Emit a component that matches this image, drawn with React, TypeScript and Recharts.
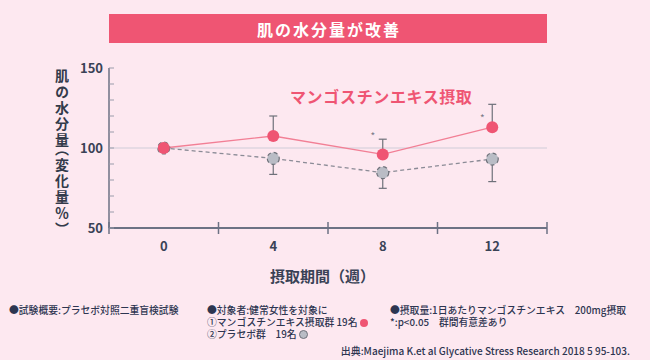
import React from 'react'
import { ComposedChart, Line, XAxis, YAxis, ErrorBar, ReferenceLine } from 'recharts'

const WEEKS = [0, 4, 8, 12]
const MANGO = [100, 107.5, 96, 113]
const MANGO_ERR = [0, 12.5, 9.5, 14.3]
const PLACEBO = [100, 93.5, 84.6, 93.1]
const PLACEBO_ERR = [0, 10, 9.8, 14.1]
// where the "*" marks sit (same y scale)
const STAR_Y = [null, null, 107.5, 118.8]

const X_BOUNDS = [-2, 2, 6, 10, 14]
const Y_TICKS = [50, 60, 70, 80, 90, 100, 110, 120, 130, 140, 150]
const Y_LABELS = [50, 100, 150]

const PINK = '#ef5573'
const NAVY = '#2d3550'
const AXIS = '#6c7284'
const FONT = "'Noto Sans CJK JP', 'Noto Sans', sans-serif"

const rows = WEEKS.map((week, i) => ({
  week,
  mango: MANGO[i],
  mangoErr: [0, MANGO_ERR[i]],
  placebo: PLACEBO[i],
  placeboErr: [PLACEBO_ERR[i], 0],
  star: STAR_Y[i],
}))

const XTick = ({ x, y, payload }: any) => {
  if (WEEKS.includes(payload.value)) {
    return (
      <text x={x} y={y + 23} textAnchor="middle" fill="#3a4256" fontSize={13} fontWeight={600}>
        {payload.value}
      </text>
    )
  }
  return <line x1={x} x2={x} y1={y - 6} y2={y + 6} stroke={AXIS} strokeWidth={1.5} />
}

const YTick = ({ x, y, payload }: any) => (
  <g>
    <line x1={x} x2={x + 5} y1={y} y2={y} stroke="#9a9cab" strokeWidth={1} />
    {Y_LABELS.includes(payload.value) && (
      <text x={x - 6} y={y + 5} textAnchor="end" fill="#3a4256" fontSize={13} fontWeight={600}>
        {payload.value}
      </text>
    )}
  </g>
)

const StarDot = ({ cx, cy, value, index }: any) => {
  if (value == null) return <g key={index} />
  return (
    <text key={index} x={cx - 10} y={cy + 4} textAnchor="middle" fill="#7a7a86" fontSize={10}>
      *
    </text>
  )
}

const paren = { fontFeatureSettings: '"vhal"' } as React.CSSProperties
const note = { position: 'absolute', fontSize: 9.8, fontWeight: 500, color: NAVY, lineHeight: '12px', whiteSpace: 'nowrap' } as React.CSSProperties

export default function App() {
  return (
    <div style={{ position: 'absolute', left: 0, top: 0, width: 650, height: 360, background: '#fde8f0', fontFamily: FONT, overflow: 'hidden' }}>
      {/* タイトル帯 */}
      <div style={{ position: 'absolute', left: 109, top: 14, width: 438, height: 29, background: PINK, color: '#fff', fontSize: 16, fontWeight: 700, letterSpacing: 2, paddingLeft: 2, boxSizing: 'border-box', lineHeight: '30px', textAlign: 'center' }}>
        肌の水分量が改善
      </div>

      <div style={{ position: 'absolute', left: 0, top: 0 }}>
        <ComposedChart width={650} height={360} data={rows} margin={{ top: 68, right: 103, left: 69, bottom: 102 }} style={{ fontFamily: FONT }}>
          <XAxis
            dataKey="week"
            type="number"
            domain={[-2, 14]}
            ticks={[...X_BOUNDS, ...WEEKS].sort((a, b) => a - b)}
            interval={0}
            tick={<XTick />}
            tickLine={false}
            tickSize={0}
            tickMargin={0}
            height={30}
            axisLine={{ stroke: AXIS, strokeWidth: 2 }}
          />
          <YAxis
            type="number"
            domain={[50, 150]}
            ticks={Y_TICKS}
            interval={0}
            tick={<YTick />}
            tickLine={false}
            tickSize={0}
            tickMargin={0}
            width={40}
            axisLine={{ stroke: AXIS, strokeWidth: 1.5 }}
          />
          <ReferenceLine y={100} stroke="#cfcbd8" strokeWidth={1.2} />
          <Line
            dataKey="placebo"
            stroke="#8b8b96"
            strokeWidth={1.3}
            strokeDasharray="4 3"
            dot={{ r: 6, fill: '#b9bcc5', stroke: '#6e717a', strokeWidth: 1.2 }}
            activeDot={false}
            isAnimationActive={false}
          >
            <ErrorBar dataKey="placeboErr" width={4} stroke="#6e717a" strokeWidth={1.2} direction="y" />
          </Line>
          <Line
            dataKey="mango"
            stroke="#f27f95"
            strokeWidth={1.3}
            dot={{ r: 6, fill: PINK, stroke: PINK, strokeWidth: 0 }}
            activeDot={false}
            isAnimationActive={false}
          >
            <ErrorBar dataKey="mangoErr" width={4} stroke="#6e717a" strokeWidth={1.2} direction="y" />
          </Line>
          <Line dataKey="star" stroke="none" dot={<StarDot />} activeDot={false} legendType="none" isAnimationActive={false} />
        </ComposedChart>
      </div>

      {/* 縦軸ラベル */}
      <div style={{ position: 'absolute', left: 55, top: 69, writingMode: 'vertical-rl', fontSize: 14, fontWeight: 700, color: '#333a4a', letterSpacing: 2, lineHeight: 1 }}>
        肌の水分量<span style={paren}>（</span>変化量％<span style={paren}>）</span>
      </div>

      {/* 系列ラベル */}
      <div style={{ position: 'absolute', left: 290, top: 88, fontSize: 16, fontWeight: 700, color: PINK, letterSpacing: 0.6, lineHeight: 1 }}>
        マンゴスチンエキス摂取
      </div>

      {/* 横軸タイトル */}
      <div style={{ position: 'absolute', left: 270, top: 268, fontSize: 15, fontWeight: 700, color: '#3a4256', lineHeight: 1 }}>
        摂取期間（週）
      </div>

      {/* 注記 */}
      <div style={{ ...note, left: 9, top: 304 }}>●試験概要:プラセボ対照二重盲検試験</div>
      <div style={{ ...note, left: 207, top: 304 }}>
        <div>●対象者:健常女性を対象に</div>
        <div>
          ①マンゴスチンエキス摂取群 19名{' '}
          <span style={{ display: 'inline-block', width: 8, height: 8, borderRadius: '50%', background: PINK, verticalAlign: -1 }} />
        </div>
        <div>
          ②プラセボ群　19名{' '}
          <span style={{ display: 'inline-block', width: 7, height: 7, borderRadius: '50%', background: '#b9bcc5', border: '1px solid #6e717a', verticalAlign: -1 }} />
        </div>
      </div>
      <div style={{ ...note, left: 390, top: 304 }}>
        <div>●摂取量:1日あたりマンゴスチンエキス　200mg摂取</div>
        <div>*:p&lt;0.05　群間有意差あり</div>
      </div>
      <div style={{ ...note, right: 20, top: 345, fontSize: 10 }}>
        出典:Maejima K.et al Glycative Stress Research 2018 5 95-103.
      </div>
    </div>
  )
}
